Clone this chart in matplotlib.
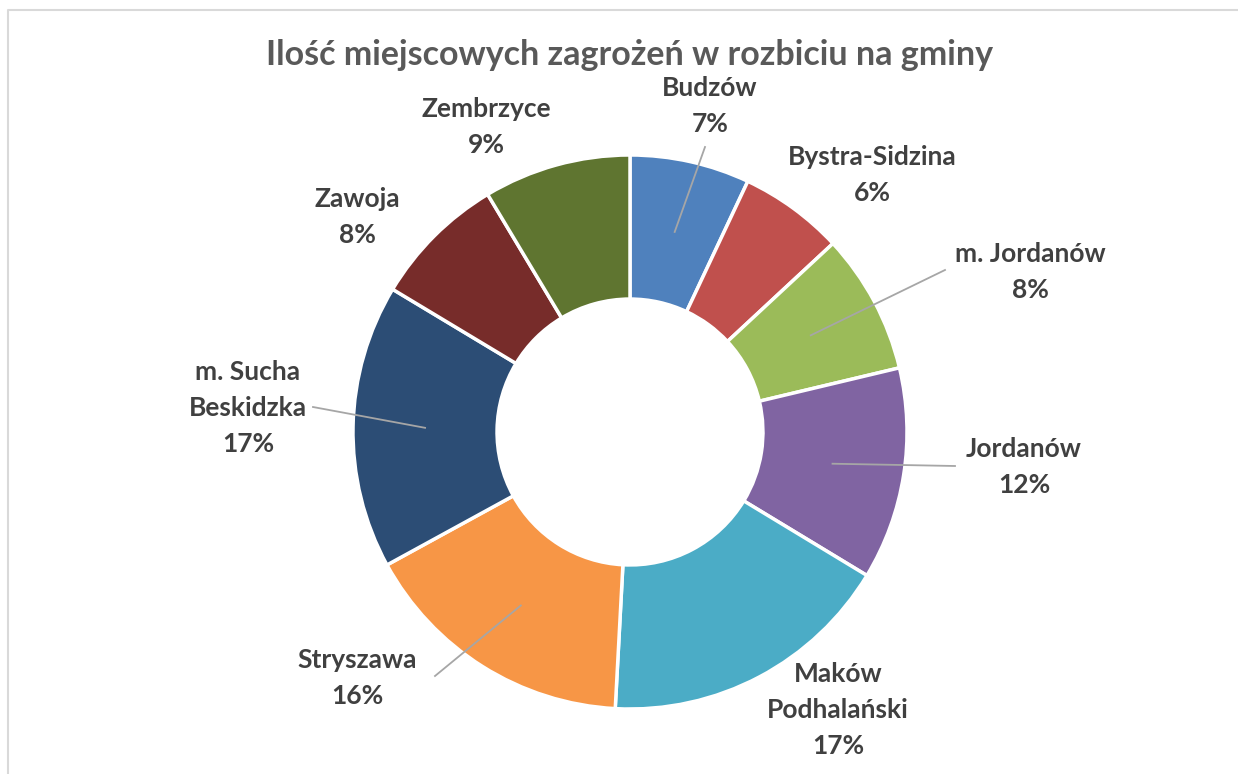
import matplotlib.pyplot as plt
import numpy as np

W, H = 1238, 774

gminy = ['Budzów', 'Bystra-Sidzina', 'm. Jordanów', 'Jordanów',
         'Maków\nPodhalański', 'Stryszawa', 'm. Sucha\nBeskidzka',
         'Zawoja', 'Zembrzyce']
udzial = [7.0, 6.1, 8.2, 12.4, 17.2, 16.2, 16.6, 7.8, 8.6]
kolory = ['#4F81BD', '#C0504D', '#9BBB59', '#8064A2', '#4BACC6',
          '#F79646', '#2C4D75', '#772C2A', '#5F7530']

# label centres (pixels) and where the leader line ends (None = no line)
label_pos = [(710, 106), (872, 175), (1030, 272), (1024, 467), (838, 710),
             (357, 678), (248, 408), (357, 217), (486, 127)]
leader_end = [(705, 147), None, (945, 270), (955, 466), None,
              (435, 676), (313, 407), None, None]

plt.rcParams['font.family'] = ['Lato', 'DejaVu Sans']

fig = plt.figure(figsize=(W / 100, H / 100), dpi=100)
ax = fig.add_axes([0, 0, 1, 1])

cx, cy = 630, H - 432
R = 277
ring = 0.52

wedges, _ = ax.pie(udzial, colors=kolory, startangle=90, counterclock=False,
                   center=(cx, cy), radius=R, frame=True,
                   wedgeprops=dict(width=R * ring, edgecolor='white', linewidth=2.5))
ax.set_xlim(0, W)
ax.set_ylim(0, H)
ax.set_aspect('equal')
ax.axis('off')

total = sum(udzial)
r_mid = R * (1 - ring / 2)
for w, name, v, pos, end in zip(wedges, gminy, udzial, label_pos, leader_end):
    ax.text(pos[0], H - pos[1], f'{name}\n{v / total * 100:.0f}%',
            ha='center', va='center', fontsize=19, fontweight='bold',
            color='#404040', linespacing=1.62)
    if end is not None:
        ang = np.deg2rad((w.theta1 + w.theta2) / 2)
        x0, y0 = cx + r_mid * np.cos(ang), cy + r_mid * np.sin(ang)
        ax.plot([x0, end[0]], [y0, H - end[1]], color='#A6A6A6', lw=1.3)

ax.text(630, H - 55, 'Ilość miejscowych zagrożeń w rozbiciu na gminy',
        ha='center', va='center', fontsize=24.5, fontweight='bold', color='#595959')

# chart area border (only left and top visible)
ax.plot([8, 8, W], [0, H - 10, H - 10], color='#D9D9D9', lw=1.5)

fig.savefig('out.png', dpi=100)
